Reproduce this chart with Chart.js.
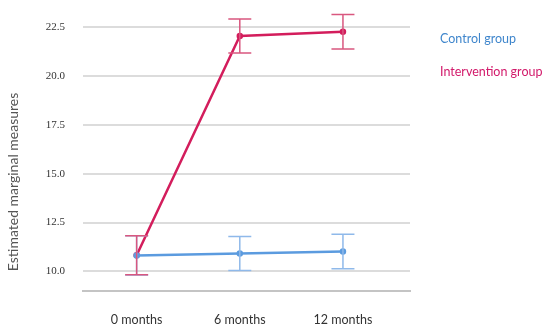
<!DOCTYPE html>
<html>
<head>
<meta charset="utf-8">
<script src="https://cdn.jsdelivr.net/npm/chart.js@4"></script>
<style>
  body { margin: 0; background: #fff; }
</style>
</head>
<body>
<canvas id="grafico" width="550" height="336"></canvas>
<script>
// Datos del gráfico
const categories = ['0 months', '6 months', '12 months'];
const yTicks = [10.0, 12.5, 15.0, 17.5, 20.0, 22.5];

const controlMeans = [10.82, 10.92, 11.02];
const controlErr = [1.0, 0.87, 0.88];
const interventionMeans = [10.83, 22.04, 22.26];
const interventionErr = [1.0, 0.87, 0.88];

const seriesNames = ['Control group', 'Intervention group'];

// Colores
const blue = '#5b9bdf';
const blueLight = '#8fb9ea';
const pink = '#d31d5c';
const pinkLight = '#d9577f';

const toPoints = arr => arr.map((v, i) => ({ x: i, y: v }));

// Plugin para barras de error, leyenda y título del eje
const extras = {
    id: 'extras',
    afterDatasetsDraw(chart) {
        const ctx = chart.ctx;
        const xs = chart.scales.x;
        const ys = chart.scales.y;
        const sets = [
            { means: controlMeans, err: controlErr, color: blueLight },
            { means: interventionMeans, err: interventionErr, color: pinkLight }
        ];
        ctx.save();
        ctx.lineWidth = 1.5;
        sets.forEach(s => {
            ctx.strokeStyle = s.color;
            s.means.forEach((m, i) => {
                const x = xs.getPixelForValue(i);
                const top = ys.getPixelForValue(m + s.err[i]);
                const bot = ys.getPixelForValue(m - s.err[i]);
                ctx.beginPath();
                ctx.moveTo(x, top); ctx.lineTo(x, bot);
                ctx.moveTo(x - 11.5, top); ctx.lineTo(x + 11.5, top);
                ctx.moveTo(x - 11.5, bot); ctx.lineTo(x + 11.5, bot);
                ctx.stroke();
            });
        });
        ctx.restore();
    },
    afterDraw(chart) {
        const ctx = chart.ctx;
        ctx.save();
        // Leyenda
        ctx.font = '12.5px Lato';
        ctx.textAlign = 'left';
        ctx.textBaseline = 'middle';
        ctx.fillStyle = '#3f86cc';
        ctx.fillText(seriesNames[0], 440, 39);
        ctx.fillStyle = '#d2196a';
        ctx.fillText(seriesNames[1], 440, 72);
        // Título eje Y
        ctx.translate(13, 182);
        ctx.rotate(-Math.PI / 2);
        ctx.textAlign = 'center';
        ctx.fillStyle = '#555';
        ctx.font = '14px Lato';
        ctx.fillText('Estimated marginal measures', 0, 0);
        ctx.restore();
    }
};

const ctx = document.getElementById('grafico').getContext('2d');

new Chart(ctx, {
    type: 'line',
    data: {
        datasets: [{
            label: seriesNames[0],
            data: toPoints(controlMeans),
            borderColor: blue,
            backgroundColor: blue,
            borderWidth: 2.5,
            pointRadius: 2,
            tension: 0
        }, {
            label: seriesNames[1],
            data: toPoints(interventionMeans),
            borderColor: pink,
            backgroundColor: pink,
            borderWidth: 2.5,
            pointRadius: 2,
            tension: 0
        }]
    },
    options: {
        responsive: false,
        animation: false,
        layout: { padding: { top: 27, right: 140, left: 0, bottom: 0 } },
        plugins: {
            legend: { display: false },
            tooltip: { enabled: false }
        },
        scales: {
            x: {
                type: 'linear',
                min: -0.52,
                max: 2.65,
                afterBuildTicks: s => { s.ticks = categories.map((c, i) => ({ value: i })); },
                afterFit: s => { s.height = 45; },
                ticks: {
                    callback: v => categories[v],
                    padding: 21,
                    color: '#333',
                    font: { family: 'Lato', size: 12.5 }
                },
                grid: { display: false, drawTicks: false },
                border: { display: true, color: '#c4c4c4', width: 2 }
            },
            y: {
                min: 9,
                max: 22.5,
                afterBuildTicks: s => { s.ticks = yTicks.map(v => ({ value: v })); },
                afterFit: s => { s.width = 83; },
                ticks: {
                    callback: v => v.toFixed(1),
                    padding: 18,
                    color: '#333',
                    font: { family: 'Liberation Serif', size: 11 }
                },
                grid: { color: '#dcdcdc', lineWidth: 2, drawTicks: false },
                border: { display: false }
            }
        }
    },
    plugins: [extras]
});
</script>
</body>
</html>
